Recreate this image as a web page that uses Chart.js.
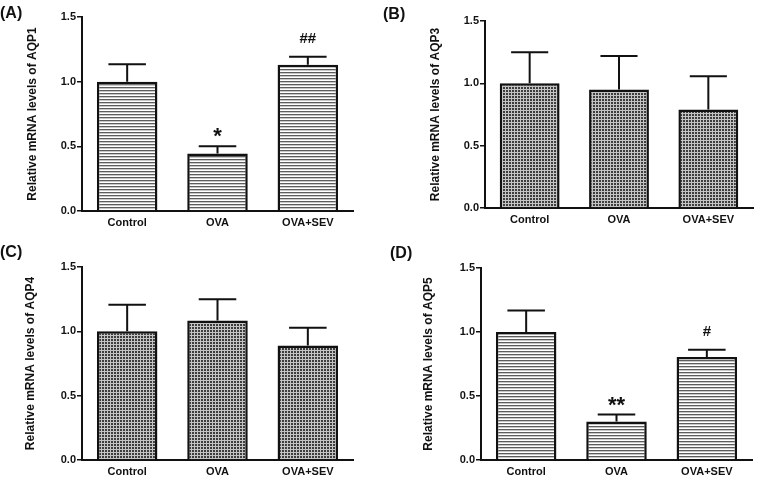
<!DOCTYPE html>
<html>
<head>
<meta charset="utf-8">
<script src="https://cdn.jsdelivr.net/npm/chart.js@4.4.1/dist/chart.umd.min.js"></script>
<style>
  html, body { margin: 0; padding: 0; background: #fff; }
  .panel { position: absolute; }
</style>
</head>
<body>
<div class="panel" style="left:0;top:0;width:380px;height:240px"><canvas id="chartA"></canvas></div>
<div class="panel" style="left:380px;top:0;width:381px;height:240px"><canvas id="chartB"></canvas></div>
<div class="panel" style="left:0;top:240px;width:380px;height:239px"><canvas id="chartC"></canvas></div>
<div class="panel" style="left:380px;top:240px;width:381px;height:239px"><canvas id="chartD"></canvas></div>
<script>
// groups and tick values
const groups = ["Control", "OVA", "OVA+SEV"];
const yTicks = [0, 0.5, 1.0, 1.5];

// mean and SEM (upper bar only)
const aqp1Mean = [1.0, 0.445, 1.13];
const aqp1Err = [0.135, 0.055, 0.062];
const aqp1Marks = ["", "*", "##"];

const aqp3Mean = [1.0, 0.95, 0.79];
const aqp3Err = [0.25, 0.27, 0.266];
const aqp3Marks = ["", "", ""];

const aqp4Mean = [1.0, 1.085, 0.89];
const aqp4Err = [0.207, 0.165, 0.137];
const aqp4Marks = ["", "", ""];

const aqp5Mean = [1.0, 0.30, 0.805];
const aqp5Err = [0.168, 0.055, 0.057];
const aqp5Marks = ["", "**", "#"];

const FONT = "'Liberation Sans', Arial, sans-serif";

function makePattern(kind) {
  const c = document.createElement("canvas");
  c.width = 3; c.height = 3;
  const g = c.getContext("2d");
  if (kind === "stripes") {
    g.fillStyle = "#fff";
    g.fillRect(0, 0, 3, 3);
    g.fillStyle = "#5c5c5c";
    g.fillRect(0, 0, 3, 1);
    g.fillStyle = "#c8c8c8";
    g.fillRect(0, 1, 3, 1);
  } else {
    g.fillStyle = "#c4c4c4";
    g.fillRect(0, 0, 3, 3);
    g.fillStyle = "#3e3e3e";
    g.fillRect(0, 0, 2, 2);
  }
  return g.createPattern(c, "repeat");
}

// error bars + significance marks
const errorBars = {
  id: "errorBars",
  afterDatasetsDraw(chart, args, opts) {
    const ctx = chart.ctx;
    const y = chart.scales.y;
    const meta = chart.getDatasetMeta(0);
    ctx.save();
    ctx.strokeStyle = "#111";
    ctx.lineWidth = 2;
    meta.data.forEach((bar, i) => {
      const top = y.getPixelForValue(opts.mean[i] + opts.err[i]);
      const half = bar.width * 0.31;
      ctx.beginPath();
      ctx.moveTo(bar.x, bar.y);
      ctx.lineTo(bar.x, top);
      ctx.moveTo(bar.x - half, top);
      ctx.lineTo(bar.x + half, top);
      ctx.stroke();
      const m = opts.marks[i];
      if (m) {
        ctx.fillStyle = "#111";
        ctx.textAlign = "center";
        ctx.textBaseline = "alphabetic";
        if (m.indexOf("*") >= 0) {
          ctx.font = "bold 22px " + FONT;
          ctx.fillText(m, bar.x, top - 3);
        } else {
          ctx.font = "bold 15px " + FONT;
          ctx.fillText(m, bar.x, top - 14);
        }
      }
    });
    ctx.restore();
  }
};

const panelLabel = {
  id: "panelLabel",
  afterDraw(chart, args, opts) {
    const ctx = chart.ctx;
    ctx.save();
    ctx.fillStyle = "#111";
    ctx.font = "bold 16px " + FONT;
    ctx.textAlign = "left";
    ctx.fillText(opts.text, opts.x, opts.y);
    ctx.restore();
  }
};

function makePanel(id, cfg) {
  const ctx = document.getElementById(id);
  return new Chart(ctx, {
    type: "bar",
    data: {
      labels: groups,
      datasets: [{
        data: cfg.mean,
        backgroundColor: makePattern(cfg.pattern),
        borderColor: "#111",
        borderWidth: 2.5,
        borderSkipped: "bottom",
        barPercentage: 0.67,
        categoryPercentage: 1.0
      }]
    },
    options: {
      responsive: true,
      maintainAspectRatio: false,
      animation: false,
      events: [],
      layout: { padding: cfg.pad },
      plugins: {
        legend: { display: false },
        tooltip: { enabled: false },
        errorBars: { mean: cfg.mean, err: cfg.err, marks: cfg.marks },
        panelLabel: { text: cfg.label, x: cfg.labelX, y: cfg.labelY }
      },
      scales: {
        x: {
          grid: { display: false, drawTicks: false, tickLength: 0 },
          border: { display: true, color: "#111", width: 2 },
          ticks: { color: "#111", padding: 5, font: { family: FONT, size: 11, weight: "bold" } },
          afterFit(s) { s.height = cfg.xH; }
        },
        y: {
          min: 0,
          max: 1.5,
          afterBuildTicks(s) { s.ticks = yTicks.map(v => ({ value: v })); },
          grid: { drawOnChartArea: false, drawTicks: true, tickLength: 5, color: "#111", lineWidth: 1.5 },
          border: { display: true, color: "#111", width: 2 },
          ticks: {
            color: "#111",
            padding: 1,
            font: { family: FONT, size: 11, weight: "bold" },
            callback: v => Number(v).toFixed(1)
          },
          title: {
            display: true,
            text: cfg.yTitle,
            color: "#111",
            padding: 0,
            font: { family: FONT, size: 12, weight: "bold" }
          },
          afterFit(s) { s.width = cfg.yW; }
        }
      }
    },
    plugins: [errorBars, panelLabel]
  });
}

makePanel("chartA", {
  mean: aqp1Mean, err: aqp1Err, marks: aqp1Marks, pattern: "stripes",
  yTitle: "Relative mRNA levels of AQP1", label: "(A)", labelX: 0, labelY: 18,
  pad: { left: 25, top: 17, right: 27, bottom: 0 }, yW: 57, xH: 29
});
makePanel("chartB", {
  mean: aqp3Mean, err: aqp3Err, marks: aqp3Marks, pattern: "hatch",
  yTitle: "Relative mRNA levels of AQP3", label: "(B)", labelX: 3, labelY: 19,
  pad: { left: 48, top: 21, right: 8, bottom: 0 }, yW: 57, xH: 32
});
makePanel("chartC", {
  mean: aqp4Mean, err: aqp4Err, marks: aqp4Marks, pattern: "hatch",
  yTitle: "Relative mRNA levels of AQP4", label: "(C)", labelX: 0, labelY: 17,
  pad: { left: 23, top: 27, right: 27, bottom: 0 }, yW: 59, xH: 19
});
makePanel("chartD", {
  mean: aqp5Mean, err: aqp5Err, marks: aqp5Marks, pattern: "stripes",
  yTitle: "Relative mRNA levels of AQP5", label: "(D)", labelX: 10, labelY: 18,
  pad: { left: 41, top: 28, right: 9, bottom: 0 }, yW: 60, xH: 19
});
</script>
</body>
</html>
